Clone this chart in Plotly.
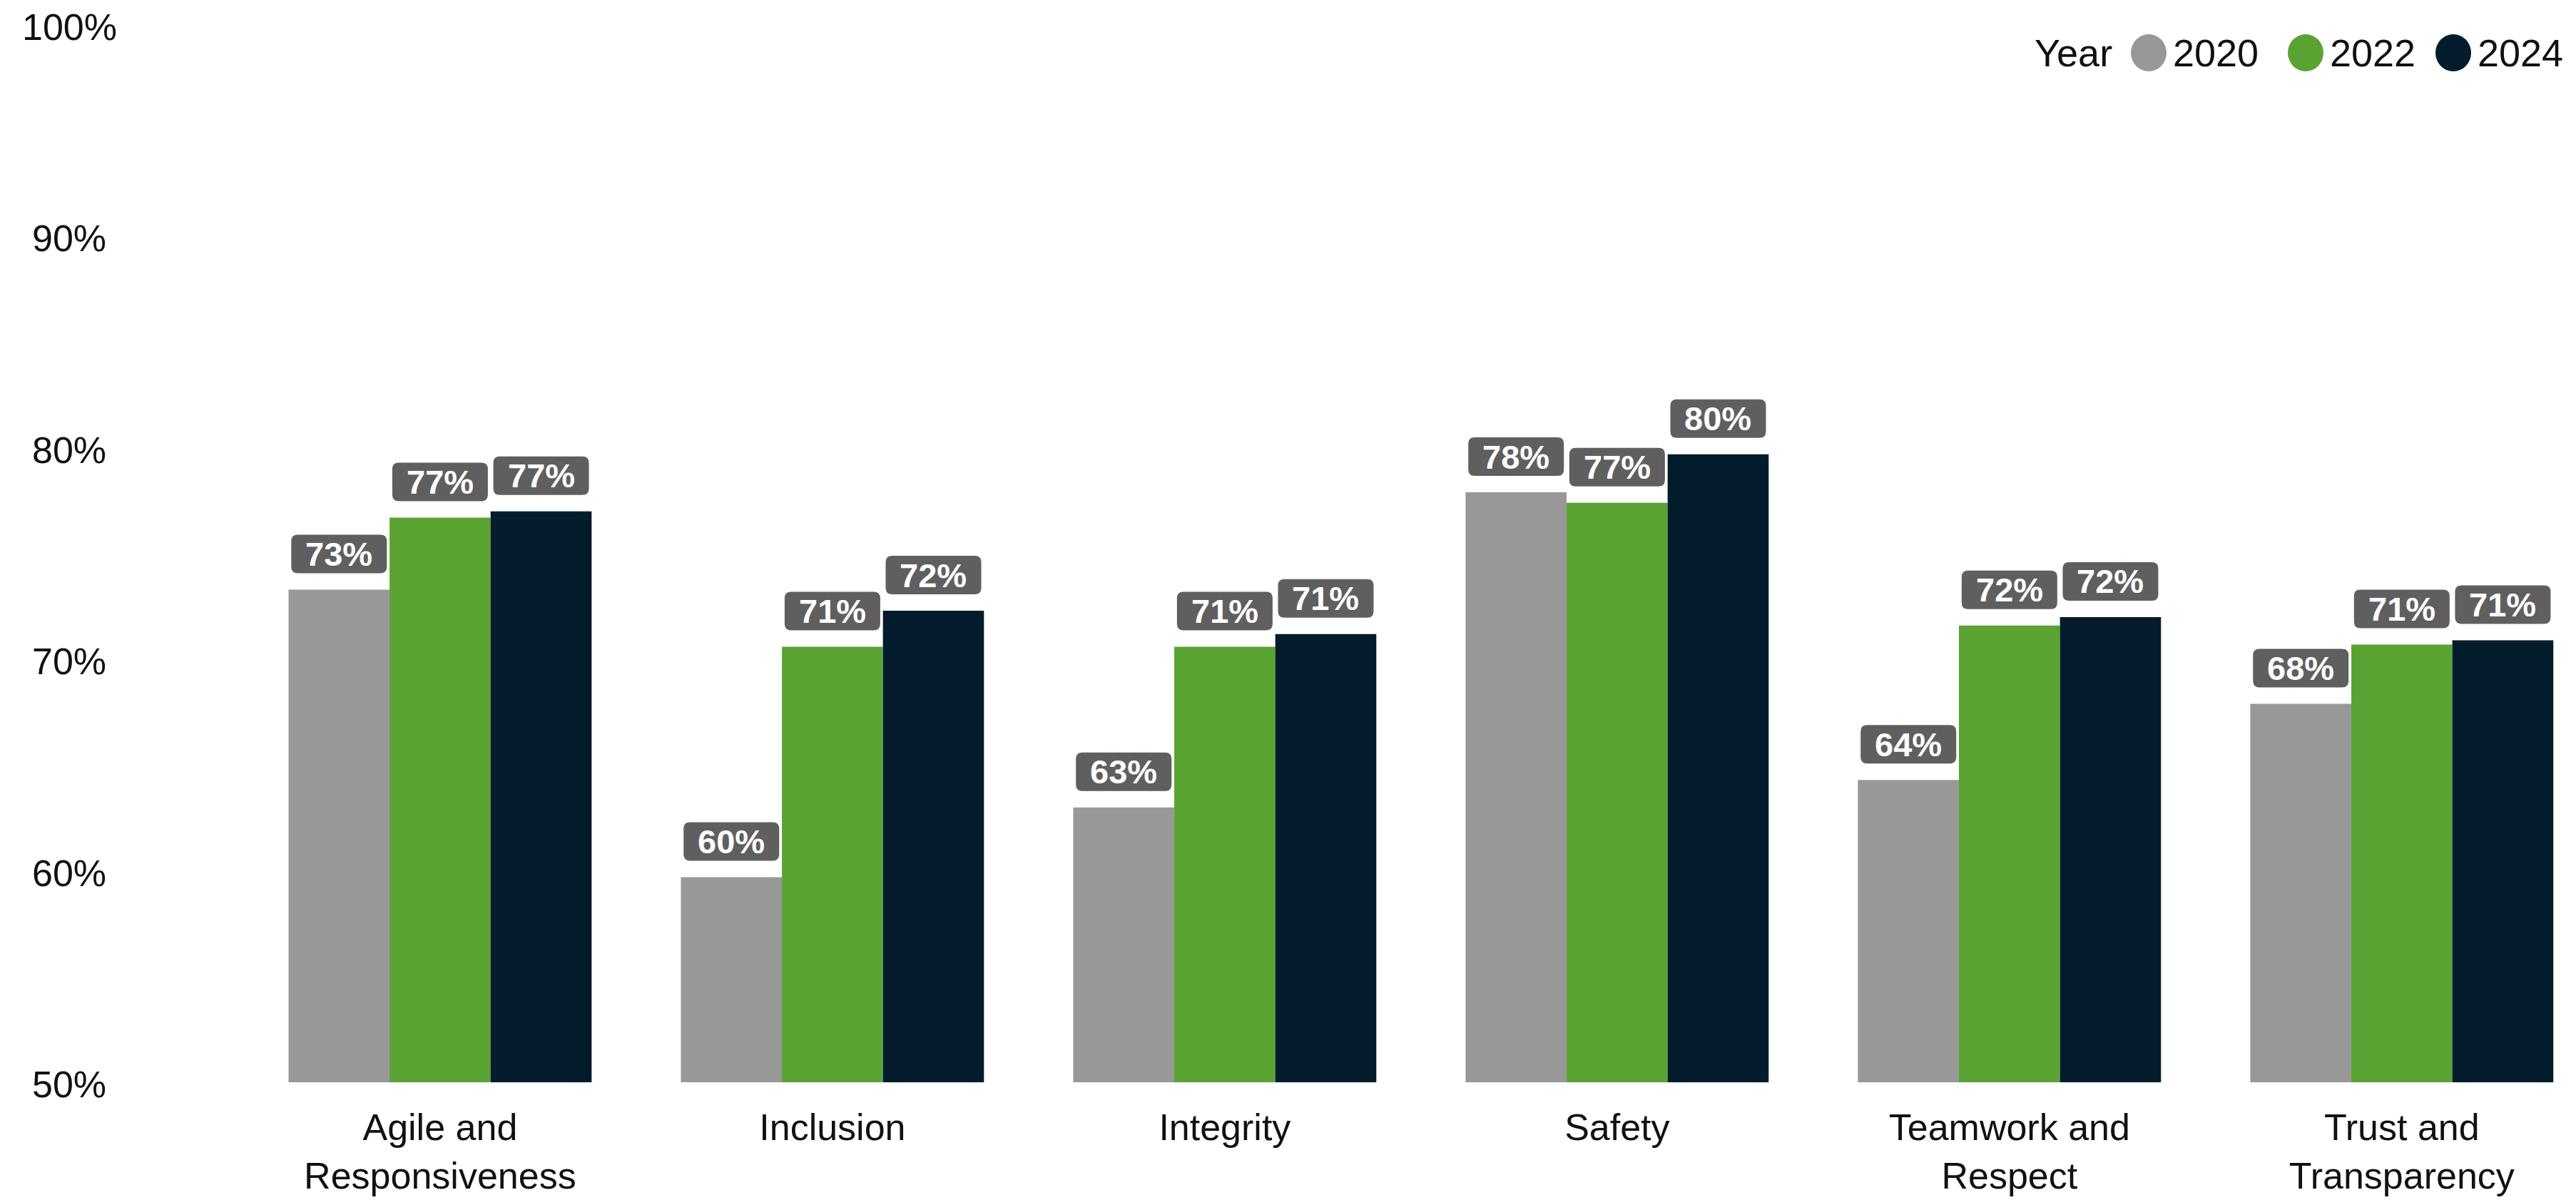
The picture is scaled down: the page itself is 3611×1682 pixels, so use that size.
import plotly.graph_objects as go

# Survey scores by value and year (percent agreeing)
categories = ["Agile and<br>Responsiveness", "Inclusion", "Integrity", "Safety",
              "Teamwork and<br>Respect", "Trust and<br>Transparency"]
years = ["2020", "2022", "2024"]
scores_2020 = [73.3, 59.7, 63.0, 77.9, 64.3, 67.9]
scores_2022 = [76.7, 70.6, 70.6, 77.4, 71.6, 70.7]
scores_2024 = [77.0, 72.3, 71.2, 79.7, 72.0, 70.9]
y_ticks = [50, 60, 70, 80, 90, 100]

series = [scores_2020, scores_2022, scores_2024]
colors = ["#989898", "#5aa332", "#021c2b"]
label_bg = "#5f5f5f"
FONT = "Liberation Sans, Arial, sans-serif"

W, H = 3611, 1682
M_L, M_R, M_T, M_B = 200, 0, 35, 165
PW, PH = W - M_L - M_R, H - M_T - M_B
BARGAP = 0.2275

def px_to_paper(px, py):
    return (px - M_L) / PW, 1 - (py - M_T) / PH

x_idx = list(range(len(categories)))
fig = go.Figure()
for yr, vals, col in zip(years, series, colors):
    fig.add_trace(go.Bar(x=x_idx, y=vals, name=yr, marker=dict(color=col, line=dict(width=0)),
                         showlegend=False))

shapes = []
annotations = []

# rounded value badges above each bar
bw = (1 - BARGAP) / len(series)
bx0, bx1, by0, by1, r = -67, 67, 23, 77, 9
badge = (f"M {bx0+r},{by0} L {bx1-r},{by0} Q {bx1},{by0} {bx1},{by0+r} "
         f"L {bx1},{by1-r} Q {bx1},{by1} {bx1-r},{by1} L {bx0+r},{by1} "
         f"Q {bx0},{by1} {bx0},{by1-r} L {bx0},{by0+r} Q {bx0},{by0} {bx0+r},{by0} Z")
for k, vals in enumerate(series):
    off = (k - (len(series) - 1) / 2) * bw
    for i, v in enumerate(vals):
        xc = i + off
        shapes.append(dict(type="path", xref="x", yref="y", xsizemode="pixel", ysizemode="pixel",
                           xanchor=xc, yanchor=v, path=badge, fillcolor=label_bg,
                           line=dict(width=0), layer="above"))
        annotations.append(dict(x=xc, y=v, xref="x", yref="y", text=f"<b>{round(v)}%</b>",
                                showarrow=False, xanchor="center", yanchor="middle",
                                yshift=(by0 + by1) / 2,
                                font=dict(family=FONT, size=47, color="white")))

# y-axis labels, centred in the left margin
lx, _ = px_to_paper(97, 0)
for t in y_ticks:
    annotations.append(dict(x=lx, y=t, xref="paper", yref="y", text=f"{t}%", showarrow=False,
                            xanchor="center", yanchor="middle", yshift=-3,
                            font=dict(family=FONT, size=52, color="#111111")))

# legend: "Year" followed by round swatches
ly_px = 74
tx, ty = px_to_paper(2963, ly_px)
annotations.append(dict(x=tx, y=ty, xref="paper", yref="paper", text="Year", showarrow=False,
                        xanchor="right", yanchor="middle",
                        font=dict(family=FONT, size=54, color="#111111")))
swatch_px = [3012, 3232, 3439]
for yr, col, cx in zip(years, colors, swatch_px):
    cxp, cyp = px_to_paper(cx, ly_px)
    shapes.append(dict(type="circle", xref="paper", yref="paper", xsizemode="pixel",
                       ysizemode="pixel", xanchor=cxp, yanchor=cyp, x0=-25, x1=25, y0=-26, y1=26,
                       fillcolor=col, line=dict(width=0)))
    txp, _ = px_to_paper(cx + 32, ly_px)
    annotations.append(dict(x=txp, y=cyp, xref="paper", yref="paper", text=yr, showarrow=False,
                            xanchor="left", yanchor="middle",
                            font=dict(family=FONT, size=54, color="#111111")))

fig.update_layout(
    width=W, height=H,
    margin=dict(l=M_L, r=M_R, t=M_T, b=M_B, pad=0),
    paper_bgcolor="white", plot_bgcolor="white",
    barmode="group", bargap=BARGAP, bargroupgap=0,
    shapes=shapes, annotations=annotations,
    xaxis=dict(range=[-0.758, 5.444], tickvals=x_idx, ticktext=categories,
               showgrid=False, zeroline=False, showline=False, ticks="",
               tickfont=dict(family=FONT, size=52, color="#111111"), ticklabelstandoff=28),
    yaxis=dict(range=[50, 100], showgrid=False, zeroline=False, showline=False,
               showticklabels=False, ticks=""),
)

fig.write_html("out.html")
